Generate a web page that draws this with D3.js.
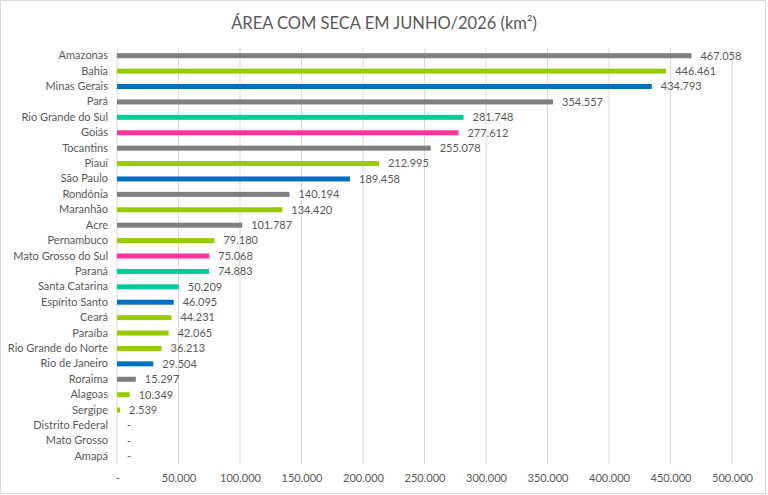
<!DOCTYPE html>
<html>
<head>
<meta charset="utf-8">
<script src="https://cdn.jsdelivr.net/npm/d3@7"></script>
<style>
  body { margin: 0; background: #fff; }
  svg { display: block; font-family: Lato, "Open Sans", sans-serif; }
</style>
</head>
<body>
<div id="canvas"></div>
<script>
// states, top to bottom
var states = ['Amazonas', 'Bahia', 'Minas Gerais', 'Pará', 'Rio Grande do Sul', 'Goiás',
  'Tocantins', 'Piauí', 'São Paulo', 'Rondônia', 'Maranhão', 'Acre', 'Pernambuco',
  'Mato Grosso do Sul', 'Paraná', 'Santa Catarina', 'Espírito Santo', 'Ceará', 'Paraíba',
  'Rio Grande do Norte', 'Rio de Janeiro', 'Roraima', 'Alagoas', 'Sergipe',
  'Distrito Federal', 'Mato Grosso', 'Amapá'];
// area with drought, km²
var areas = [467058, 446461, 434793, 354557, 281748, 277612, 255078, 212995, 189458,
  140194, 134420, 101787, 79180, 75068, 74883, 50209, 46095, 44231, 42065, 36213,
  29504, 15297, 10349, 2539, 0, 0, 0];
// region of each state
var regions = ['N', 'NE', 'SE', 'N', 'S', 'CO', 'N', 'NE', 'SE', 'N', 'NE', 'N', 'NE',
  'CO', 'S', 'S', 'SE', 'NE', 'NE', 'NE', 'SE', 'N', 'NE', 'NE', 'CO', 'CO', 'N'];
var regionNames = ['N', 'NE', 'SE', 'S', 'CO'];
var regionColors = ['#7f7f7f', '#99cc00', '#0070c0', '#00cc99', '#ff3399'];
var xTicks = [0, 50000, 100000, 150000, 200000, 250000, 300000, 350000, 400000, 450000, 500000];

const w = 768;
const h = 495;
const margin = { top: 48, right: 36, bottom: 31, left: 117 };
const textColor = '#595959';

var fmt = v => v === 0 ? '-' : d3.format(',')(v).replace(/,/g, '.');

const svg = d3.select('#canvas').append('svg')
  .attr('width', w).attr('height', h);

svg.append('rect')
  .attr('x', 0.5).attr('y', 0.5)
  .attr('width', w - 3).attr('height', h - 2)
  .attr('fill', '#fff').attr('stroke', '#d9d9d9');

svg.append('text')
  .attr('x', w / 2).attr('y', 29)
  .attr('text-anchor', 'middle')
  .attr('font-size', '16.5px').attr('fill', textColor)
  .text('ÁREA COM SECA EM JUNHO/2026 (km²)');

var x = d3.scaleLinear().domain([0, 500000]).range([margin.left, w - margin.right]);
var y = d3.scaleBand().domain(states).range([margin.top, h - margin.bottom]);
var color = d3.scaleOrdinal().domain(regionNames).range(regionColors);

// gridlines
svg.append('g').selectAll('line')
  .data(xTicks)
  .enter().append('line')
  .attr('x1', d => x(d)).attr('x2', d => x(d))
  .attr('y1', margin.top).attr('y2', h - margin.bottom)
  .attr('stroke', '#d9d9d9').attr('stroke-width', 1);

// x tick labels
var xAxis = d3.axisBottom(x).tickValues(xTicks).tickFormat(fmt).tickSize(0).tickPadding(10);
var gx = svg.append('g')
  .attr('transform', `translate(0,${h - margin.bottom})`)
  .call(xAxis);
gx.select('.domain').remove();
gx.selectAll('text').attr('font-size', '11px').attr('fill', textColor)
  .attr('font-family', 'Lato, "Open Sans", sans-serif');

// y labels
var yAxis = d3.axisLeft(y).tickSize(0).tickPadding(9);
var gy = svg.append('g')
  .attr('transform', `translate(${margin.left},0)`)
  .call(yAxis);
gy.select('.domain').remove();
gy.selectAll('text').attr('font-size', '11px').attr('fill', textColor)
  .attr('font-family', 'Lato, "Open Sans", sans-serif');

var data = states.map((s, i) => ({ state: s, area: areas[i], region: regions[i] }));
var barH = 5;

svg.append('g').selectAll('rect')
  .data(data)
  .enter().append('rect')
  .attr('x', x(0))
  .attr('y', d => y(d.state) + y.bandwidth() / 2 - barH / 2)
  .attr('width', d => x(d.area) - x(0))
  .attr('height', barH)
  .attr('fill', d => color(d.region));

svg.append('g').selectAll('text')
  .data(data)
  .enter().append('text')
  .attr('x', d => x(d.area) + (d.area === 0 ? 10 : 9))
  .attr('y', d => y(d.state) + y.bandwidth() / 2)
  .attr('dy', '0.35em')
  .attr('font-size', '11px').attr('fill', textColor)
  .text(d => fmt(d.area));
</script>
</body>
</html>
